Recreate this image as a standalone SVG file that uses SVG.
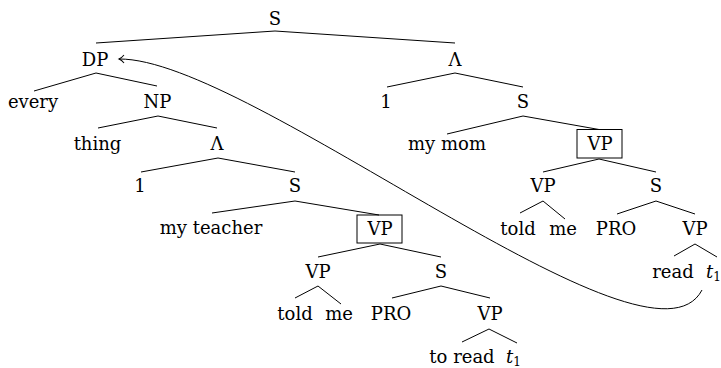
<svg xmlns="http://www.w3.org/2000/svg" width="721" height="368" viewBox="0 0 721 368">
<defs>
<style>
text{font-family:'DejaVu Serif','Liberation Serif',serif;font-size:18px;fill:#000;text-anchor:middle}
.st{text-anchor:start}
.sub{font-size:12px;font-style:normal}
.it{font-style:italic}
.e{stroke:#000;stroke-width:1;fill:none}
.box{stroke:#000;stroke-width:1;fill:none}
</style>
<marker id="arr" markerUnits="userSpaceOnUse" markerWidth="12" markerHeight="12" refX="0" refY="0" viewBox="-7 -6 9 12" orient="auto">
<path d="M -5 -4 C -3 -1.5 -1 -0.4 0 0 C -1 0.4 -3 1.5 -5 4" stroke="#000" stroke-width="1" fill="none"/>
</marker>
</defs>
<rect width="721" height="368" fill="#fff"/>
<g id="connectors">
<path class="e" d="M275 31L96 43M275 31L455 43"/>
<path class="e" d="M96 73L34 91M96 73L157 86"/>
<path class="e" d="M158 116L98 128M158 116L217 128"/>
<path class="e" d="M218 158L141 172M218 158L295 172"/>
<path class="e" d="M295 201L212 213M295 201L379 215"/>
<path class="e" d="M380 244L318 257M380 244L441 257"/>
<path class="e" d="M318 286L295 298M318 286L341 304"/>
<path class="e" d="M441 286L392 298M441 286L490 298"/>
<path class="e" d="M489 329L462 342M489 329L517 343"/>
<path class="e" d="M455 73L387 87M455 73L523 87"/>
<path class="e" d="M523 116L447 134M523 116L599 129.5"/>
<path class="e" d="M599 159L543 172M599 159L656 172"/>
<path class="e" d="M543 201L520 213M543 201L565 219"/>
<path class="e" d="M656 201L617 214M656 201L695 214"/>
<path class="e" d="M695 244L674 256M695 244L717 257"/>
<path id="movement" class="e" d="M702 290C650 390 250 58 119 59" marker-end="url(#arr)"/>
</g>
<g id="n_S0"><text x="275" y="25">S</text></g>
<g id="n_DP"><text x="95" y="66">DP</text></g>
<g id="n_every"><text x="33" y="108">every</text></g>
<g id="n_NP"><text x="157.5" y="108">NP</text></g>
<g id="n_thing"><text x="97.5" y="150">thing</text></g>
<g id="n_Lambda1"><text x="217" y="150">Λ</text></g>
<g id="n_one1"><text x="140" y="192">1</text></g>
<g id="n_S1"><text x="295" y="192">S</text></g>
<g id="n_myteacher"><text x="211" y="234">my teacher</text></g>
<g id="n_VP1"><rect class="box" x="357" y="215" width="45" height="28"/><text x="380" y="235">VP</text></g>
<g id="n_VP2"><text x="318" y="278">VP</text></g>
<g id="n_S2"><text x="441" y="278">S</text></g>
<g id="n_told1"><text x="295" y="320">told</text></g>
<g id="n_me1"><text x="339" y="320">me</text></g>
<g id="n_PRO1"><text x="391" y="320">PRO</text></g>
<g id="n_VP3"><text x="490" y="320">VP</text></g>
<g id="n_toread"><text x="462" y="363">to read</text></g>
<g id="n_t1a"><text class="st" x="506" y="363"><tspan class="it">t</tspan><tspan class="sub" dy="3">1</tspan></text></g>
<g id="n_Lambda2"><text x="455" y="66">Λ</text></g>
<g id="n_one2"><text x="386" y="108">1</text></g>
<g id="n_S3"><text x="523" y="108">S</text></g>
<g id="n_mymom"><text x="447" y="150">my mom</text></g>
<g id="n_VP4"><rect class="box" x="577" y="129.5" width="45" height="28.5"/><text x="600" y="150">VP</text></g>
<g id="n_VP5"><text x="543" y="192">VP</text></g>
<g id="n_S4"><text x="656" y="192">S</text></g>
<g id="n_told2"><text x="518" y="235">told</text></g>
<g id="n_me2"><text x="563" y="235">me</text></g>
<g id="n_PRO2"><text x="616" y="235">PRO</text></g>
<g id="n_VP6"><text x="695" y="235">VP</text></g>
<g id="n_read"><text x="673" y="278">read</text></g>
<g id="n_t1b"><text class="st" x="706" y="278"><tspan class="it">t</tspan><tspan class="sub" dy="3">1</tspan></text></g>
</svg>
